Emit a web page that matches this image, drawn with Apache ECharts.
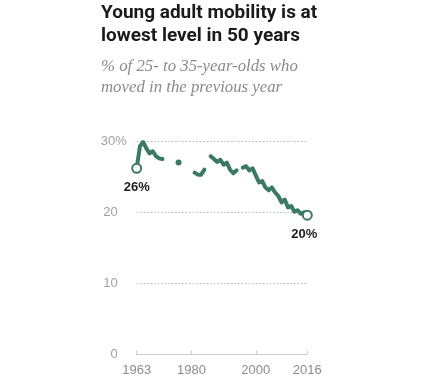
<!DOCTYPE html>
<html>
<head>
<meta charset="utf-8">
<script src="https://cdn.jsdelivr.net/npm/echarts@6/dist/echarts.min.js"></script>
<style>
html,body{margin:0;padding:0;background:#fff;}
#chart{width:427px;height:385px;}
</style>
</head>
<body>
<div id="chart"></div>
<script>
const years = [1963,1964,1965,1966,1967,1968,1969,1970,1971,1972,1973,1974,1975,1976,1977,1978,1979,1980,
  1981,1982,1983,1984,1985,1986,1987,1988,1989,1990,1991,1992,1993,1994,1995,
  1996,1997,1998,1999,2000,2001,2002,2003,2004,2005,2006,2007,2008,2009,2010,2011,2012,2013,2014,2015,2016];
const moved = [26.2,29.3,29.9,29.0,28.3,28.6,27.9,27.6,27.5,null,null,null,null,27.0,null,null,null,null,
  25.6,25.3,25.3,26.0,null,27.9,27.5,27.1,27.4,26.7,27.0,26.0,25.5,25.9,null,
  26.3,26.5,25.9,26.2,25.2,24.2,24.4,23.5,23.1,23.5,22.8,22.3,21.4,21.8,20.7,20.9,20.1,20.3,19.8,20.0,19.6];
const xTickYears = [1963,1980,2000,2016];
const yTicks = [0,10,20,30];
const startLabel = '26%';
const endLabel = '20%';

const green = '#3a7a60';
const lastIdx = years.length - 1;
const data = years.map((y,i) => {
  const v = moved[i];
  if (v === null) return [y, null];
  const prevNull = i === 0 || moved[i-1] === null;
  const nextNull = i === lastIdx || moved[i+1] === null;
  if (i === 0 || i === lastIdx) {
    return {
      value: [y, v], symbol: 'circle', symbolSize: 9,
      itemStyle: {color: '#fff', borderColor: green, borderWidth: 2},
      label: {show: true, position: 'bottom', distance: 7,
        formatter: i === 0 ? startLabel : endLabel,
        offset: i === 0 ? [0, 0] : [-3, 0],
        color: '#1e1e1e', fontWeight: 'bold', fontSize: 13, fontFamily: 'Liberation Sans'}
    };
  }
  if (prevNull && nextNull) {
    return {value: [y, v], symbol: 'circle', symbolSize: 6, itemStyle: {color: green}};
  }
  return {value: [y, v], symbol: 'none'};
});

const chart = echarts.init(document.getElementById('chart'), null, {renderer: 'canvas'});
chart.setOption({
  animation: false,
  title: [{
    text: 'Young adult mobility is at\nlowest level in 50 years',
    left: 101, top: 2, padding: 0,
    textStyle: {fontFamily: 'Roboto', fontWeight: 'bold', fontSize: 19, lineHeight: 23, color: '#1a1a1a'}
  }, {
    text: '% of 25- to 35-year-olds who\nmoved in the previous year',
    left: 101, top: 56, padding: 0,
    textStyle: {fontFamily: 'Liberation Serif', fontStyle: 'italic', fontWeight: 'normal', fontSize: 16.8, lineHeight: 21, color: '#8a8a8a'}
  }],
  grid: {left: 136.7, right: 119.7, top: 141.3, bottom: 30.5, containLabel: false},
  xAxis: {
    type: 'value', min: 1963, max: 2016,
    splitLine: {show: false},
    axisLine: {show: true, lineStyle: {color: '#cfcfcf', width: 1}},
    axisTick: {show: true, inside: true, length: 4, customValues: xTickYears, lineStyle: {color: '#cfcfcf'}},
    axisLabel: {customValues: xTickYears, formatter: v => String(v), color: '#8c8c8c', fontSize: 13,
      fontFamily: 'Liberation Sans', margin: 9, hideOverlap: false}
  },
  yAxis: {
    type: 'value', min: 0, max: 30, interval: 10,
    axisLine: {show: false}, axisTick: {show: false},
    splitLine: {show: true, lineStyle: {color: '#b0b0b0', type: [1.5, 2], width: 1}},
    axisLabel: {
      color: '#a0a0a0', fontSize: 13, fontFamily: 'Liberation Sans', margin: 10,
      formatter: v => v === 30 ? '30%' : (v + '{p|}'),
      rich: {p: {width: 9}}
    }
  },
  series: [{
    type: 'line', data: data, connectNulls: false, showSymbol: true, symbol: 'none',
    lineStyle: {color: green, width: 4, join: 'round', cap: 'round'},
    itemStyle: {color: green},
    z: 3
  }]
});
</script>
</body>
</html>
